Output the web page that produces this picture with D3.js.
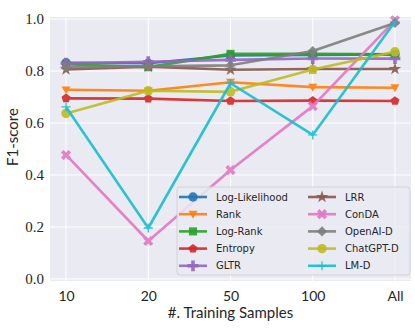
<!DOCTYPE html>
<html>
<head>
<meta charset="utf-8">
<script src="https://cdn.jsdelivr.net/npm/d3@7"></script>
<style>
  body { margin: 0; background: #fff; }
  svg { display: block; }
</style>
</head>
<body>
<div id="chart-area"></div>
<script>
// data
var samples = ["10", "20", "50", "100", "All"];
var methods = ["Log-Likelihood", "Rank", "Log-Rank", "Entropy", "GLTR",
               "LRR", "ConDA", "OpenAI-D", "ChatGPT-D", "LM-D"];
var logLikelihood = [0.832, 0.830, 0.860, 0.862, 0.864];
var rank          = [0.728, 0.724, 0.757, 0.738, 0.736];
var logRank       = [0.826, 0.815, 0.866, 0.866, 0.864];
var entropy       = [0.695, 0.694, 0.685, 0.686, 0.685];
var gltr          = [0.830, 0.836, 0.843, 0.848, 0.848];
var lrr           = [0.806, 0.817, 0.805, 0.808, 0.808];
var conda         = [0.477, 0.146, 0.419, 0.665, 0.995];
var openaiD       = [0.815, 0.818, 0.822, 0.877, 0.985];
var chatgptD      = [0.637, 0.724, 0.720, 0.806, 0.874];
var lmD           = [0.662, 0.196, 0.753, 0.554, 0.990];
var yTicks = [0.0, 0.2, 0.4, 0.6, 0.8, 1.0];

var seriesValues = [logLikelihood, rank, logRank, entropy, gltr,
                    lrr, conda, openaiD, chatgptD, lmD];
var colors = ["#1f77b4", "#ff7f0e", "#2ca02c", "#d62728", "#9467bd",
              "#8c564b", "#e377c2", "#7f7f7f", "#bcbd22", "#17becf"];
var shapes = ["circle", "tri", "square", "pent", "plus",
              "star", "x", "diamond", "circle", "thinplus"];

var W = 415, H = 332;
var margin = { top: 17, right: 4, bottom: 51, left: 50 };
var width = W - margin.left - margin.right;
var height = H - margin.top - margin.bottom;

var svg = d3.select("#chart-area").append("svg")
    .attr("width", W)
    .attr("height", H);

var g = svg.append("g")
    .attr("transform", "translate(" + margin.left + "," + margin.top + ")");

// x scale (categorical points)
var x = d3.scalePoint()
    .domain(samples)
    .range([0, width])
    .padding(0.195);

// y scale
var y = d3.scaleLinear()
    .domain([-0.008, 1.008])
    .range([height, 0]);

// background
g.append("rect")
    .attr("width", width)
    .attr("height", height)
    .attr("fill", "#eaeaf2");

// grid
g.selectAll(".ygrid").data(yTicks).enter().append("line")
    .attr("x1", 0).attr("x2", width)
    .attr("y1", function (d) { return y(d); })
    .attr("y2", function (d) { return y(d); })
    .attr("stroke", "#fff").attr("stroke-width", 1);
g.selectAll(".xgrid").data(samples).enter().append("line")
    .attr("y1", 0).attr("y2", height)
    .attr("x1", function (d) { return x(d); })
    .attr("x2", function (d) { return x(d); })
    .attr("stroke", "#fff").attr("stroke-width", 1);

// axes (no domain line, no ticks, seaborn style)
var xAxis = g.append("g")
    .attr("transform", "translate(0," + height + ")")
    .call(d3.axisBottom(x).tickSize(0).tickPadding(10));
xAxis.select(".domain").remove();
xAxis.selectAll("text")
    .attr("font-family", "Lato, sans-serif")
    .attr("font-size", 14)
    .attr("fill", "#262626");

var yAxis = g.append("g")
    .call(d3.axisLeft(y).tickValues(yTicks).tickFormat(d3.format(".1f")).tickSize(0).tickPadding(6));
yAxis.select(".domain").remove();
yAxis.selectAll("text")
    .attr("font-family", "Liberation Serif, serif")
    .attr("font-size", 15)
    .attr("fill", "#262626");

// axis labels
svg.append("text")
    .attr("x", margin.left + width / 2)
    .attr("y", 318)
    .attr("text-anchor", "middle")
    .attr("font-family", "Lato, sans-serif")
    .attr("font-size", 15)
    .attr("fill", "#262626")
    .text("#. Training Samples");

svg.append("text")
    .attr("transform", "translate(18,137) rotate(-90)")
    .attr("text-anchor", "middle")
    .attr("font-family", "Lato, sans-serif")
    .attr("font-size", 15)
    .attr("fill", "#262626")
    .text("F1-score");

// marker drawing
function marker(sel, shape, color, s) {
    var r = s / 2;
    if (shape === "circle") {
        sel.append("circle").attr("r", r * 1.05).attr("fill", color);
    } else if (shape === "tri") {
        sel.append("path").attr("d", "M" + (-r) + "," + (-r * 0.75) + "L" + r + "," + (-r * 0.75) + "L0," + (r * 1.0) + "Z")
            .attr("fill", color);
    } else if (shape === "square") {
        sel.append("rect").attr("x", -r * 0.9).attr("y", -r * 0.9)
            .attr("width", r * 1.8).attr("height", r * 1.8).attr("fill", color);
    } else if (shape === "pent") {
        var pts = d3.range(5).map(function (i) {
            var a = -Math.PI / 2 + i * 2 * Math.PI / 5;
            return [r * 1.05 * Math.cos(a), r * 1.05 * Math.sin(a)];
        });
        sel.append("path").attr("d", "M" + pts.join("L") + "Z").attr("fill", color);
    } else if (shape === "plus") {
        sel.append("path").attr("d", d3.symbol().type(d3.symbolCross).size(s * s * 0.8)()).attr("fill", color);
    } else if (shape === "star") {
        sel.append("path").attr("d", d3.symbol().type(d3.symbolStar).size(s * s * 0.6)()).attr("fill", color);
    } else if (shape === "x") {
        sel.append("path").attr("d", d3.symbol().type(d3.symbolCross).size(s * s * 0.8)())
            .attr("transform", "rotate(45)").attr("fill", color);
    } else if (shape === "diamond") {
        sel.append("rect").attr("x", -r * 0.8).attr("y", -r * 0.8)
            .attr("width", r * 1.6).attr("height", r * 1.6)
            .attr("transform", "rotate(45)").attr("fill", color);
    } else if (shape === "thinplus") {
        sel.append("path").attr("d", "M" + (-r) + ",0H" + r + "M0," + (-r) + "V" + r)
            .attr("stroke", color).attr("stroke-width", 1.3).attr("fill", "none");
    }
}

var line = d3.line()
    .x(function (d, i) { return x(samples[i]); })
    .y(function (d) { return y(d); });

var plot = g.append("g");
seriesValues.forEach(function (vals, k) {
    var sg = plot.append("g").attr("opacity", 0.9);
    sg.append("path")
        .attr("d", line(vals))
        .attr("fill", "none")
        .attr("stroke", colors[k])
        .attr("stroke-width", 2.6)
        .attr("stroke-linejoin", "round");
    vals.forEach(function (v, i) {
        var m = sg.append("g").attr("transform", "translate(" + x(samples[i]) + "," + y(v) + ")");
        marker(m, shapes[k], colors[k], 9);
    });
});

// legend
var leg = svg.append("g").attr("transform", "translate(177,187)");
leg.append("rect")
    .attr("width", 233).attr("height", 88).attr("rx", 3)
    .attr("fill", "#eaeaf2").attr("fill-opacity", 0.85)
    .attr("stroke", "#cccccc").attr("stroke-width", 0.8);

methods.forEach(function (name, k) {
    var col = Math.floor(k / 5), row = k % 5;
    var lx = col === 0 ? 2 : 131;
    var ly = 10 + row * 17.2;
    var item = leg.append("g").attr("transform", "translate(" + lx + "," + ly + ")");
    item.append("line")
        .attr("x1", 0).attr("x2", 28)
        .attr("stroke", colors[k]).attr("stroke-width", 2.6).attr("opacity", 0.9);
    var m = item.append("g").attr("transform", "translate(14,0)").attr("opacity", 0.9);
    marker(m, shapes[k], colors[k], 9);
    item.append("text")
        .attr("x", 37).attr("y", 0).attr("dy", "0.35em")
        .attr("font-family", "DejaVu Sans, sans-serif")
        .attr("font-size", 10)
        .attr("fill", "#262626")
        .text(name);
});
</script>
</body>
</html>
